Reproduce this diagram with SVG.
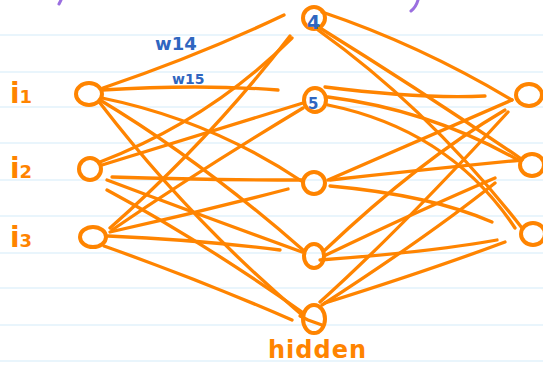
<svg xmlns="http://www.w3.org/2000/svg" width="543" height="366" viewBox="0 0 543 366">
<style>
.rule{stroke:#d3ebfa;stroke-width:1.2}
.e{fill:none;stroke:#ff8400;stroke-width:3.3;stroke-linecap:round}
.n{fill:none;stroke:#ff8400;stroke-width:4}
.o{font-family:"DejaVu Sans",sans-serif;fill:#ff8400;font-weight:bold}
.b{font-family:"DejaVu Sans",sans-serif;fill:#2f66c0;font-weight:bold}
</style>
<rect width="543" height="366" fill="#fff"/>
<g id="rules">
<line class="rule" x1="0" y1="35" x2="543" y2="35"/>
<line class="rule" x1="0" y1="72" x2="543" y2="72"/>
<line class="rule" x1="0" y1="107" x2="543" y2="107"/>
<line class="rule" x1="0" y1="143" x2="543" y2="143"/>
<line class="rule" x1="0" y1="180" x2="543" y2="180"/>
<line class="rule" x1="0" y1="216" x2="543" y2="216"/>
<line class="rule" x1="0" y1="253" x2="543" y2="253"/>
<line class="rule" x1="0" y1="288" x2="543" y2="288"/>
<line class="rule" x1="0" y1="325" x2="543" y2="325"/>
<line class="rule" x1="0" y1="361" x2="543" y2="361"/>
</g>
<g id="marks" fill="none" stroke="#9b6fe0" stroke-width="3" stroke-linecap="round">
<path d="M61,0 L59,4"/>
<path d="M418,0 Q416,7 411,11"/>
</g>
<g id="connectors">
<path class="e" d="M103,88 Q200,55 284,15"/>
<path class="e" d="M102,90 Q200,84 278,90"/>
<path class="e" d="M102,98 Q210,120 303,182"/>
<path class="e" d="M100,100 Q200,160 303,250"/>
<path class="e" d="M100,103 Q190,220 302,315"/>
<path class="e" d="M100,162 Q210,120 292,38"/>
<path class="e" d="M102,165 Q200,135 303,103"/>
<path class="e" d="M112,177 Q200,180 302,180"/>
<path class="e" d="M107,180 Q200,215 302,252"/>
<path class="e" d="M107,190 Q200,240 302,312"/>
<path class="e" d="M110,228 Q210,140 290,36"/>
<path class="e" d="M112,230 Q200,170 303,108"/>
<path class="e" d="M110,232 Q200,212 288,189"/>
<path class="e" d="M108,236 Q200,240 280,250"/>
<path class="e" d="M104,246 Q200,280 292,320"/>
<path class="e" d="M322,12 Q420,45 512,100"/>
<path class="e" d="M320,28 Q420,90 520,158"/>
<path class="e" d="M318,30 Q430,110 522,228"/>
<path class="e" d="M325,87 Q420,99 485,96"/>
<path class="e" d="M328,97 Q430,110 518,160"/>
<path class="e" d="M328,105 Q450,130 515,228"/>
<path class="e" d="M328,180 Q420,140 512,100"/>
<path class="e" d="M330,180 Q420,170 522,160"/>
<path class="e" d="M330,186 Q430,195 492,222"/>
<path class="e" d="M325,250 Q420,160 505,110"/>
<path class="e" d="M326,255 Q420,210 495,178"/>
<path class="e" d="M320,260 Q430,252 497,240"/>
<path class="e" d="M320,302 Q400,230 508,112"/>
<path class="e" d="M322,305 Q430,235 495,183"/>
<path class="e" d="M325,303 Q430,270 505,242"/>
</g>
<g id="i1"><ellipse class="n" cx="89" cy="94" rx="13" ry="11"/></g>
<g id="i2"><ellipse class="n" cx="90" cy="169" rx="11" ry="11"/></g>
<g id="i3"><ellipse class="n" cx="93" cy="237" rx="13" ry="10"/></g>
<g id="h4"><ellipse class="n" cx="314" cy="18" rx="11" ry="11"/><text class="b" x="307" y="29" font-size="19">4</text></g>
<g id="h5"><ellipse class="n" cx="315" cy="100" rx="11" ry="12"/><text class="b" x="308" y="109" font-size="15">5</text></g>
<g id="h6"><ellipse class="n" cx="314" cy="183" rx="11" ry="11"/></g>
<g id="h7"><ellipse class="n" cx="314" cy="256" rx="10" ry="12"/></g>
<g id="h8"><ellipse class="n" cx="314" cy="319" rx="11" ry="14"/><path class="e" d="M300,316 L308,320 L322,325"/></g>
<g id="o1"><ellipse class="n" cx="529" cy="95" rx="13" ry="11"/></g>
<g id="o2"><ellipse class="n" cx="532" cy="165" rx="12" ry="11"/></g>
<g id="o3"><ellipse class="n" cx="533" cy="234" rx="12" ry="11"/></g>
<g id="labels">
<text class="o" x="10" y="103" font-size="28">i<tspan font-size="18">1</tspan></text>
<text class="o" x="10" y="178" font-size="28">i<tspan font-size="18">2</tspan></text>
<text class="o" x="10" y="247" font-size="28">i<tspan font-size="18">3</tspan></text>
<text class="b" x="155" y="50" font-size="18">w14</text>
<text class="b" x="172" y="84" font-size="14">w15</text>
<text class="o" x="268" y="358" font-size="24" letter-spacing="1">hidden</text>
</g>
</svg>
